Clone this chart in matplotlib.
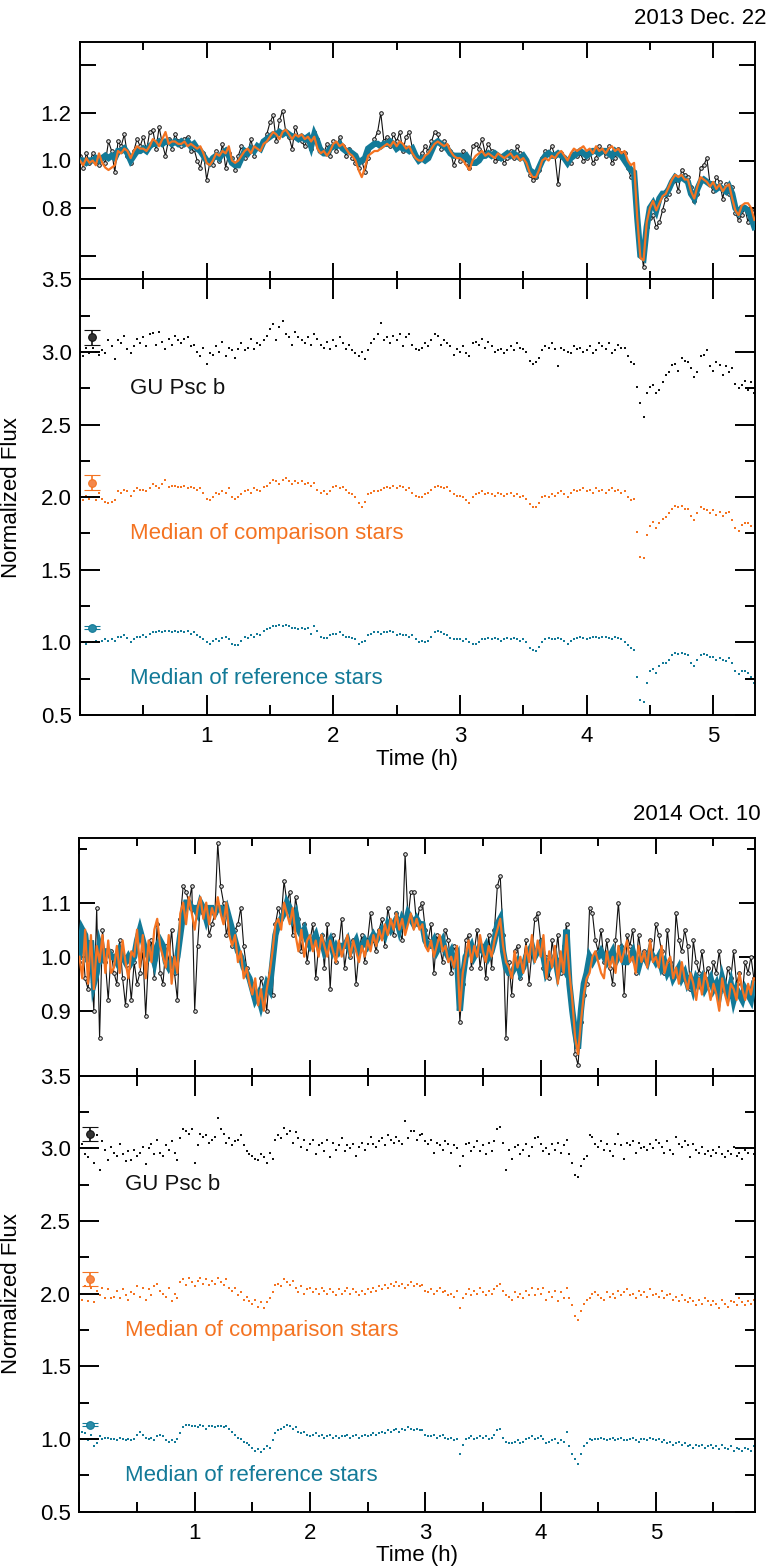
import numpy as np
import matplotlib
matplotlib.use("Agg")
import matplotlib.pyplot as plt
from matplotlib.ticker import MultipleLocator, FixedLocator, NullFormatter, FixedFormatter

plt.rcParams['font.family'] = ['Liberation Sans', 'DejaVu Sans']

# ---------------- data: 2013 Dec. 22 (cadence 0.025 h) ----------------
cadence_a = 0.025
ref_a = [
    1.00,1.00,0.99,1.00,1.00,1.01,1.00,1.01,1.02,1.01,
    1.02,1.01,1.04,1.04,1.05,1.03,1.00,1.02,1.04,1.04,
    1.05,1.04,1.06,1.07,1.07,1.08,1.07,1.08,1.08,1.07,
    1.08,1.07,1.08,1.07,1.08,1.06,1.07,1.05,1.04,1.02,
    1.00,0.99,1.01,1.02,1.01,1.03,1.04,1.02,0.99,0.98,
    0.98,1.01,1.04,1.03,1.05,1.04,1.06,1.05,1.08,1.09,
    1.10,1.11,1.11,1.12,1.11,1.12,1.11,1.10,1.10,1.09,
    1.10,1.09,1.10,1.06,1.11,1.08,1.04,1.03,1.03,1.05,
    1.06,1.06,1.07,1.05,1.04,1.04,1.03,1.02,0.99,1.00,
    1.01,1.05,1.06,1.07,1.07,1.06,1.07,1.07,1.08,1.07,
    1.05,1.06,1.05,1.05,1.04,1.05,1.02,1.00,1.01,1.00,
    1.01,1.04,1.07,1.08,1.07,1.06,1.05,1.03,1.02,1.02,
    1.02,1.01,1.02,1.00,0.99,0.99,1.00,1.02,1.02,1.03,
    1.02,1.03,1.02,1.01,1.02,1.03,1.02,1.03,1.02,1.01,
    1.02,1.00,0.96,0.95,0.94,0.97,1.00,1.02,1.03,1.02,
    1.02,1.03,1.02,1.01,0.99,1.01,1.02,1.03,1.04,1.03,
    1.02,1.03,1.04,1.04,1.03,1.04,1.04,1.03,1.02,1.04,
    1.03,1.02,1.00,0.98,0.96,0.95,0.76,0.60,0.59,0.72,
    0.80,0.82,0.79,0.84,0.86,0.86,0.88,0.91,0.93,0.92,
    0.93,0.92,0.91,0.86,0.84,0.88,0.91,0.92,0.91,0.90,
    0.90,0.88,0.89,0.88,0.87,0.89,0.86,0.80,0.78,0.80,
    0.80,0.79,0.76,0.72,
]
comp_a = [
    1.00,0.98,1.01,0.99,1.00,0.98,1.03,0.99,0.97,0.96,
    0.97,0.98,1.04,1.03,1.05,1.04,1.01,1.04,1.06,1.05,
    1.05,1.04,1.06,1.09,1.08,1.06,1.09,1.12,1.07,1.08,
    1.08,1.07,1.07,1.08,1.06,1.07,1.06,1.05,1.06,1.03,
    0.99,0.98,1.00,1.03,1.02,1.04,1.03,1.06,1.00,0.99,
    1.00,1.02,1.04,1.05,1.03,1.06,1.05,1.04,1.07,1.08,
    1.10,1.12,1.11,1.09,1.12,1.13,1.11,1.09,1.11,1.10,
    1.11,1.09,1.10,1.08,1.10,1.05,1.03,1.04,1.02,1.04,
    1.07,1.08,1.06,1.07,1.05,1.03,1.02,1.00,0.96,0.93,
    0.97,1.02,1.03,1.04,1.04,1.05,1.06,1.07,1.06,1.08,
    1.06,1.08,1.07,1.05,1.06,1.03,1.01,1.00,1.00,1.02,
    1.03,1.05,1.07,1.08,1.07,1.06,1.07,1.04,1.02,1.01,
    1.01,1.00,0.98,0.96,1.00,1.02,1.03,1.04,1.02,1.03,
    1.02,1.01,1.03,1.02,1.01,1.02,1.03,1.01,1.02,1.00,
    1.01,0.99,0.95,0.93,0.93,0.96,1.00,1.01,1.00,1.02,
    1.01,1.03,1.04,1.02,1.00,1.03,1.05,1.04,1.05,1.06,
    1.04,1.05,1.03,1.06,1.04,1.05,1.03,1.05,1.06,1.04,
    1.05,1.03,1.04,1.00,0.98,0.99,0.76,0.59,0.58,0.74,
    0.80,0.83,0.79,0.82,0.85,0.86,0.89,0.92,0.94,0.93,
    0.94,0.92,0.92,0.87,0.84,0.89,0.93,0.92,0.91,0.89,
    0.91,0.88,0.90,0.87,0.89,0.90,0.84,0.79,0.77,0.81,
    0.82,0.82,0.80,0.75,
]
gu_a = [
    1.02,0.97,1.03,0.99,1.03,1.00,0.98,1.01,0.99,1.08,
    1.04,0.95,1.08,1.06,1.11,1.02,0.99,1.04,1.09,1.06,
    1.10,1.04,1.12,1.13,1.05,1.14,1.07,1.02,1.09,1.05,
    1.11,1.08,1.06,1.09,1.10,1.04,1.05,1.00,0.97,1.03,
    0.92,0.99,0.98,1.04,1.00,1.07,0.97,1.03,1.01,0.96,
    1.02,1.06,1.01,1.03,1.09,1.02,1.06,1.05,1.08,1.11,
    1.16,1.19,1.08,1.17,1.21,1.12,1.10,1.05,1.14,1.10,
    1.08,1.06,1.10,1.05,1.12,1.09,1.05,1.03,1.07,1.02,
    1.08,1.04,1.10,1.06,1.02,1.05,1.01,0.99,0.97,1.00,
    0.95,1.01,1.06,1.09,1.12,1.20,1.08,1.10,1.06,1.11,
    1.08,1.12,1.04,1.10,1.12,1.05,1.02,1.01,1.03,1.06,
    1.04,1.08,1.12,1.11,1.05,1.08,1.06,1.04,0.98,1.02,
    1.00,1.04,0.99,0.97,1.06,1.07,1.05,1.09,1.03,1.07,
    1.04,1.00,1.01,1.02,0.99,1.01,1.04,1.01,1.06,1.03,
    1.02,1.00,0.94,0.92,0.93,0.96,1.01,1.04,1.03,1.06,
    1.02,0.90,1.03,1.01,1.00,0.99,1.04,1.02,1.03,1.00,
    1.01,1.04,0.99,1.01,1.06,1.04,1.02,1.06,0.99,1.01,
    1.05,1.03,1.03,0.97,0.93,0.92,0.76,0.65,0.55,0.72,
    0.76,0.77,0.72,0.74,0.79,0.84,0.86,0.91,0.92,0.87,
    0.96,0.94,0.93,0.89,0.83,0.86,0.97,0.98,1.01,0.90,
    0.87,0.93,0.91,0.84,0.90,0.86,0.89,0.78,0.75,0.77,
    0.80,0.74,0.79,0.72,
]

# ---------------- data: 2014 Oct. 10 (cadence 0.025 h) ----------------
cadence_b = 0.025
ref_b = [
    1.00,1.05,1.04,0.99,1.03,0.95,0.97,1.02,1.00,1.01,
    1.01,1.00,1.00,0.99,1.01,1.00,0.99,1.00,0.99,1.00,
    1.03,1.05,1.03,1.01,1.00,1.01,0.99,1.02,1.03,1.02,
    0.99,0.98,0.99,0.98,1.00,1.04,1.08,1.10,1.10,1.09,
    1.09,1.08,1.10,1.09,1.07,1.09,1.09,1.08,1.09,1.09,
    1.08,1.09,1.07,1.05,1.03,1.01,1.00,0.98,0.97,0.96,
    0.94,0.92,0.93,0.91,0.93,0.95,0.94,0.99,1.04,1.06,
    1.07,1.08,1.10,1.09,1.07,1.08,1.05,1.04,1.05,1.03,
    1.02,1.03,1.04,1.02,1.03,1.01,1.02,1.03,1.01,1.02,
    1.01,1.02,1.02,1.03,1.01,1.02,1.03,1.01,1.02,1.03,
    1.02,1.03,1.04,1.03,1.04,1.05,1.04,1.06,1.05,1.06,
    1.07,1.05,1.07,1.06,1.08,1.07,1.06,1.07,1.06,1.06,
    1.03,1.02,1.02,1.03,1.01,1.02,1.03,1.01,1.00,1.01,
    0.99,1.00,0.90,0.96,1.00,1.01,1.02,1.00,1.01,1.02,
    1.01,1.02,1.00,1.01,1.03,1.06,1.07,1.01,0.98,0.97,
    0.97,0.98,0.99,0.97,0.98,1.00,1.01,1.02,1.00,1.01,
    1.02,1.00,0.97,0.98,0.99,1.00,0.97,0.99,0.98,1.05,
    0.95,0.90,0.86,0.83,0.90,0.95,0.97,1.00,0.99,1.00,
    1.00,1.01,1.00,0.99,1.00,1.01,0.99,1.00,1.01,0.99,
    0.99,1.00,1.01,0.99,0.98,1.00,1.00,0.99,1.01,1.00,
    0.99,1.00,0.98,0.99,0.97,0.98,0.96,0.97,0.98,0.96,
    0.97,0.95,0.96,0.94,0.96,0.95,0.96,0.94,0.95,0.96,
    0.94,0.95,0.93,0.96,0.94,0.93,0.95,0.92,0.94,0.93,
    0.92,0.94,0.93,0.92,0.95,
]
comp_b = [
    1.00,0.96,1.05,0.95,1.04,0.94,1.02,0.99,1.04,0.97,
    1.03,0.97,0.98,1.02,0.97,1.03,0.99,0.96,1.01,1.00,
    1.05,0.98,1.04,0.96,1.03,0.99,1.05,1.07,1.02,1.00,
    0.98,1.04,0.95,1.00,0.97,1.08,1.10,1.06,1.11,1.08,
    1.05,1.09,1.11,1.07,1.10,1.06,1.09,1.07,1.11,1.08,
    1.06,1.10,1.04,1.02,1.04,0.99,1.01,0.96,0.98,0.95,
    0.93,0.96,0.91,0.94,0.90,0.94,0.97,1.01,1.06,1.07,
    1.05,1.10,1.08,1.06,1.09,1.04,1.01,1.05,1.00,1.03,
    1.04,1.01,1.03,1.00,1.04,1.02,1.00,1.03,1.01,0.99,
    1.03,1.00,1.02,1.04,1.00,1.03,1.01,0.99,1.02,1.00,
    1.03,1.01,1.04,1.02,1.05,1.03,1.06,1.04,1.07,1.05,
    1.08,1.05,1.07,1.04,1.06,1.08,1.05,1.07,1.05,1.06,
    1.02,1.01,1.03,1.00,1.02,1.04,1.01,1.02,0.99,1.00,
    0.98,1.02,0.90,0.97,1.00,1.03,0.99,1.02,1.00,1.04,
    1.01,0.99,1.02,1.00,1.03,1.05,1.07,1.02,0.99,0.98,
    0.96,1.01,0.98,1.00,0.97,1.02,0.99,1.04,0.99,1.03,
    1.00,1.04,0.96,1.01,0.98,1.02,0.95,1.01,0.97,1.04,
    0.97,0.92,0.85,0.82,0.88,0.93,0.96,0.97,1.00,1.01,
    0.99,0.97,0.96,1.01,0.98,1.00,0.97,1.02,0.99,1.01,
    1.03,0.99,1.00,0.97,1.02,0.99,1.01,0.98,1.03,0.99,
    1.00,0.98,1.02,0.97,0.99,1.00,0.96,0.98,0.95,0.99,
    0.96,0.94,0.97,0.95,0.92,0.96,0.93,0.97,0.95,0.92,
    0.95,0.93,0.90,0.96,0.93,0.91,0.95,0.94,0.92,0.97,
    0.94,0.92,0.95,0.93,0.96,
]
gu_b = [
    0.99,1.03,0.96,0.94,1.00,0.90,1.09,0.85,1.05,0.99,
    0.92,1.01,0.97,0.95,1.03,0.96,0.91,0.98,0.92,0.99,
    0.95,0.97,1.01,0.89,1.00,1.03,0.96,1.06,0.97,0.95,
    1.02,0.99,1.05,0.97,0.92,1.07,1.13,1.12,1.10,1.13,
    0.90,1.02,1.10,1.08,1.09,1.04,1.06,1.08,1.21,1.13,
    1.10,1.04,1.07,1.02,1.05,1.06,1.09,1.02,0.98,0.96,
    0.95,0.93,0.92,0.96,0.94,0.90,0.97,0.93,1.06,1.09,
    1.07,1.14,1.10,1.12,1.04,1.11,1.07,1.01,1.06,0.99,
    1.03,1.06,0.96,1.02,1.04,0.98,1.06,0.94,1.04,0.99,
    1.02,1.07,0.98,1.02,1.00,1.03,0.95,1.01,1.04,0.99,
    1.03,1.08,1.03,1.01,1.05,1.07,1.02,1.09,1.06,1.04,
    1.08,1.05,1.03,1.19,1.07,1.12,1.12,1.06,1.09,1.10,
    1.05,1.03,1.06,0.97,1.04,1.02,0.99,1.05,1.03,0.97,
    1.02,1.00,0.88,0.95,1.03,1.04,0.98,1.01,1.05,0.98,
    1.02,0.96,1.04,0.98,1.05,1.13,1.15,1.04,0.85,0.99,
    0.93,1.01,1.02,0.96,0.99,1.03,0.95,1.01,1.07,1.08,
    1.03,0.98,1.00,0.96,1.03,0.99,1.04,0.97,1.02,1.06,
    0.96,0.90,0.82,0.80,0.88,0.93,0.95,1.09,1.08,1.03,
    1.01,1.05,0.99,1.03,0.98,0.95,1.03,1.10,1.02,0.93,
    1.04,1.02,1.05,0.97,1.04,1.00,1.01,0.99,1.03,1.00,
    1.06,1.04,1.01,0.97,1.05,0.99,0.96,1.08,1.03,1.01,
    1.05,1.02,0.94,1.03,0.99,0.97,1.01,0.96,0.98,0.95,
    0.99,0.97,1.01,0.96,0.94,0.98,0.96,1.01,0.95,0.97,
    0.93,0.99,0.97,1.00,0.96,
]

# typical error bars shown at left of lower panels
err_y = [3.1, 2.1, 1.1]
err_e = [0.05, 0.05, 0.01]

nights = [
    dict(title="2013 Dec. 22", cad=cadence_a, gu=gu_a, comp=comp_a, ref=ref_a,
         xmax=5.33, top_ylim=(0.5, 1.5), top_major=[0.6, 0.8, 1.0, 1.2, 1.4],
         top_labels=["", "0.8", "1.0", "1.2", ""], top_minor=[],
         rect_top=(80, 41.7, 755, 279.3), rect_bot=(80, 279.3, 755, 715),
         title_xy=(766, 18)),
    dict(title="2014 Oct. 10", cad=cadence_b, gu=gu_b, comp=comp_b, ref=ref_b,
         xmax=5.86, top_ylim=(0.78, 1.22), top_major=[0.9, 1.0, 1.1],
         top_labels=["0.9", "1.0", "1.1"], top_minor=[1.2],
         rect_top=(79.4, 837.7, 755, 1075.7), rect_bot=(79.4, 1075.7, 755, 1511.7),
         title_xy=(761, 814)),
]

W, H = 770, 1568
BLACK = "#111111"
ORANGE = "#F47321"
TEAL = "#137A98"
FS = 16

fig = plt.figure(figsize=(W / 100, H / 100), dpi=100)


def rect(r):
    x0, y0, x1, y1 = r
    return [x0 / W, 1 - y1 / H, (x1 - x0) / W, (y1 - y0) / H]


for n in nights:
    gu = np.array(n["gu"])
    comp = np.array(n["comp"])
    ref = np.array(n["ref"])
    t = np.arange(len(ref)) * n["cad"]

    # ---- top panel: light curves overlaid ----
    ax1 = fig.add_axes(rect(n["rect_top"]))
    ax1.plot(t, gu, color=BLACK, lw=0.8, marker='o', ms=2.6, mfc='#dddddd',
             mec=BLACK, mew=0.7, zorder=2)
    ax1.plot(t, ref, color=TEAL, lw=4.5, solid_joinstyle='miter', zorder=3)
    ax1.plot(t, comp, color=ORANGE, lw=1.6, zorder=4)
    ax1.set_xlim(0, n["xmax"])
    ax1.set_ylim(*n["top_ylim"])
    ax1.xaxis.set_major_locator(MultipleLocator(1))
    ax1.xaxis.set_minor_locator(MultipleLocator(0.5))
    ax1.xaxis.set_major_formatter(NullFormatter())
    ax1.yaxis.set_major_locator(FixedLocator(n["top_major"]))
    ax1.yaxis.set_major_formatter(FixedFormatter(n["top_labels"]))
    ax1.yaxis.set_minor_locator(FixedLocator(n["top_minor"]))
    ax1.tick_params(which='both', direction='in', top=True, right=True,
                    width=1.4, labelsize=FS)
    ax1.tick_params(axis='x', which='major', length=11.5)
    ax1.tick_params(axis='x', which='minor', length=5.8)
    ax1.tick_params(axis='y', which='major', length=11.5, pad=6)
    ax1.tick_params(axis='y', which='minor', length=5.8)
    for s in ax1.spines.values():
        s.set_linewidth(1.4)
    fig.text(n["title_xy"][0] / W, 1 - n["title_xy"][1] / H, n["title"],
             ha='right', va='center', fontsize=FS)

    # ---- bottom panel: offset point series ----
    ax2 = fig.add_axes(rect(n["rect_bot"]))
    ax2.scatter(t, gu + 2, s=2.2, marker='s', color=BLACK, lw=0)
    ax2.scatter(t, comp + 1, s=2.2, marker='s', color=ORANGE, lw=0)
    ax2.scatter(t, ref, s=2.2, marker='s', color=TEAL, lw=0)
    for yv, ev, c, fc in zip(err_y, err_e, [BLACK, ORANGE, TEAL],
                             ["#333333", "#F4874A", "#2A8CA8"]):
        ax2.errorbar([0.095], [yv], yerr=[ev], fmt='o', ms=5.5, mfc=fc, mec=c,
                     mew=0.8, ecolor=c, elinewidth=1.2, capsize=5.5, capthick=1.2)
    ax2.text(0.395, 2.75, "GU Psc b", color=BLACK, fontsize=FS, va='center', ha='left')
    ax2.text(0.395, 1.75, "Median of comparison stars", color=ORANGE, fontsize=FS,
             va='center', ha='left')
    ax2.text(0.395, 0.75, "Median of reference stars", color=TEAL, fontsize=FS,
             va='center', ha='left')
    ax2.set_xlim(0, n["xmax"])
    ax2.set_ylim(0.5, 3.5)
    ax2.xaxis.set_major_locator(MultipleLocator(1))
    ax2.xaxis.set_minor_locator(MultipleLocator(0.5))
    ax2.yaxis.set_major_locator(MultipleLocator(0.5))
    ax2.yaxis.set_minor_locator(MultipleLocator(0.25))
    ax2.yaxis.set_major_formatter(matplotlib.ticker.FormatStrFormatter('%.1f'))
    ax2.xaxis.set_major_formatter(
        matplotlib.ticker.FuncFormatter(lambda v, p: "" if v == 0 else "%d" % v))
    ax2.tick_params(which='both', direction='in', top=True, right=True,
                    width=1.4, labelsize=FS)
    ax2.tick_params(which='major', length=14.5)
    ax2.tick_params(which='minor', length=7.2)
    ax2.tick_params(axis='x', which='major', pad=8)
    ax2.tick_params(axis='y', which='major', pad=6)
    for s in ax2.spines.values():
        s.set_linewidth(1.4)
    ax2.set_xlabel("Time (h)", fontsize=FS, labelpad=1)
    ax2.set_ylabel("Normalized Flux", fontsize=FS)
    ax2.yaxis.set_label_coords(22 / W, 0.5, transform=fig.transFigure)
    # keep vertical centre on the lower panel
    y0, y1 = n["rect_bot"][1], n["rect_bot"][3]
    ax2.yaxis.label.set_position((22 / W, 1 - (y0 + y1) / 2 / H))

fig.savefig("out.png", dpi=100)
